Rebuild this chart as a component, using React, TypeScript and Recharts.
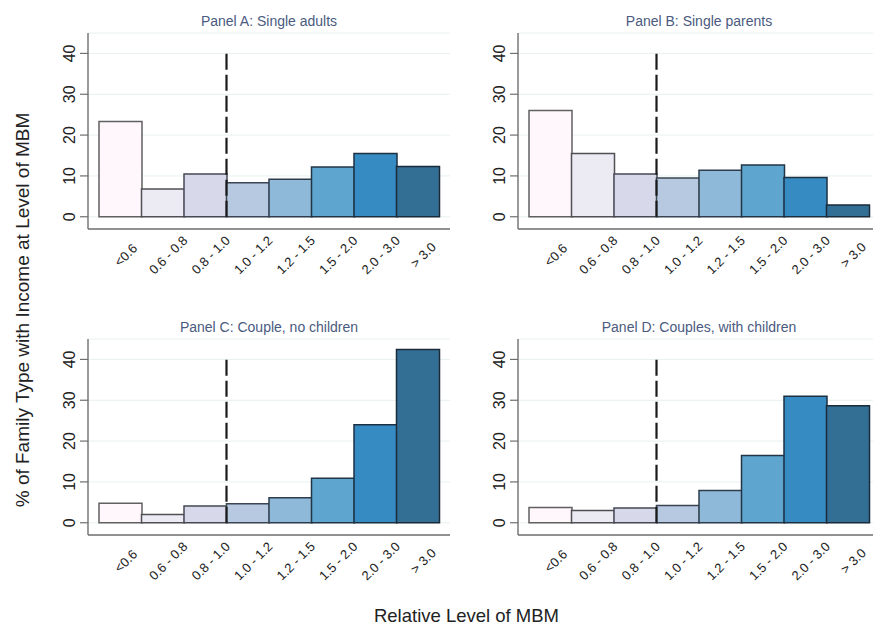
import React from 'react';
import { BarChart, Bar, XAxis, YAxis, CartesianGrid, ReferenceLine, Cell } from 'recharts';

const categories = ['<0.6', '0.6 - 0.8', '0.8 - 1.0', '1.0 - 1.2', '1.2 - 1.5', '1.5 - 2.0', '2.0 - 3.0', '> 3.0'];
const singleAdults = [23.3, 6.8, 10.5, 8.3, 9.2, 12.2, 15.5, 12.3];
const singleParents = [26.0, 15.5, 10.5, 9.5, 11.4, 12.7, 9.6, 2.9];
const coupleNoChildren = [4.8, 2.0, 4.1, 4.65, 6.1, 10.9, 24.0, 42.4];
const couplesWithChildren = [3.75, 3.0, 3.6, 4.25, 7.9, 16.5, 31.0, 28.65];
const yTicks = [0, 10, 20, 30, 40];
const panelTitles = ['Panel A: Single adults', 'Panel B: Single parents', 'Panel C: Couple, no children', 'Panel D: Couples, with children'];
const mbmThreshold = '1.0 - 1.2';
const yLabel = '% of Family Type with Income at Level of MBM';
const xLabel = 'Relative Level of MBM';

const fills = ['#fff7fb', '#ecebf4', '#d7d9ea', '#b6c9e1', '#8fb9d9', '#5ea6cf', '#378bc3', '#336f94'];
const strokes = ['#606060', '#505054', '#464854', '#3a4452', '#2e3c4b', '#233545', '#1c3042', '#1a2b3a'];

const FONT = "'Liberation Sans', Arial, sans-serif";
const AXIS = '#6f6f6f';

const XTick = (props: any) => {
  const { x, y, payload } = props;
  const cx = x + 5.5;
  const cy = y + 26;
  return (
    <text
      x={cx}
      y={cy}
      textAnchor="middle"
      dominantBaseline="central"
      transform={`rotate(-45, ${cx}, ${cy})`}
      fontFamily={FONT}
      fontSize={13}
      fill="#222"
    >
      {payload.value}
    </text>
  );
};

const YTick = (props: any) => {
  const { x, y, payload } = props;
  const bx = x - 3;
  return (
    <text
      x={bx}
      y={y}
      textAnchor="middle"
      transform={`rotate(-90, ${bx}, ${y})`}
      fontFamily={FONT}
      fontSize={16}
      fill="#222"
    >
      {payload.value}
    </text>
  );
};

const PANEL_W = 460;
const PANEL_H = 300;

function Panel({ values, left, top }: { values: number[]; left: number; top: number }) {
  const data = categories.map((c, i) => ({ cat: c, v: values[i] }));
  return (
    <div style={{ position: 'absolute', left, top, width: PANEL_W, height: PANEL_H }}>
      <BarChart
        width={PANEL_W}
        height={PANEL_H}
        data={data}
        margin={{ top: 33, right: 10, bottom: 21, left: 48 }}
        barCategoryGap={0}
        barGap={0}
      >
        <CartesianGrid horizontal vertical={false} stroke="#e8f0f0" strokeWidth={1} />
        <XAxis
          dataKey="cat"
          height={50}
          padding={{ left: 11, right: 11 }}
          tickLine={false}
          tickSize={0}
          tickMargin={0}
          axisLine={{ stroke: AXIS, strokeWidth: 1.4 }}
          tick={XTick}
          interval={0}
        />
        <YAxis
          type="number"
          domain={[-3, 45]}
          ticks={yTicks}
          width={40}
          tickSize={8}
          tickMargin={2}
          tickLine={{ stroke: AXIS, strokeWidth: 1.2 }}
          axisLine={{ stroke: AXIS, strokeWidth: 1.4 }}
          tick={YTick}
          interval={0}
          allowDataOverflow
        />
        <Bar dataKey="v" isAnimationActive={false} strokeWidth={1.5}>
          {data.map((d, i) => (
            <Cell key={d.cat} fill={fills[i]} stroke={strokes[i]} />
          ))}
        </Bar>
        <ReferenceLine
          segment={[{ x: mbmThreshold, y: 0 }, { x: mbmThreshold, y: 40 }]}
          position="start"
          stroke="#1a1a1a"
          strokeWidth={2.2}
          strokeDasharray="16 5"
        />
      </BarChart>
    </div>
  );
}

const panels = [
  { values: singleAdults, left: 0, top: 0 },
  { values: singleParents, left: 430, top: 0 },
  { values: coupleNoChildren, left: 0, top: 306 },
  { values: couplesWithChildren, left: 430, top: 306 },
];

export default function App() {
  return (
    <div style={{ position: 'absolute', left: 0, top: 0, width: 873, height: 627, overflow: 'hidden', background: '#fff' }}>
      {panels.map((p, i) => (
        <Panel key={i} values={p.values} left={p.left} top={p.top} />
      ))}
      <svg width={873} height={627} style={{ position: 'absolute', left: 0, top: 0, pointerEvents: 'none' }}>
        {panels.map((p, i) => (
          <text
            key={i}
            x={p.left + 269}
            y={p.top + 26}
            textAnchor="middle"
            fontFamily={FONT}
            fontSize={14}
            fill="#4a5a80"
          >
            {panelTitles[i]}
          </text>
        ))}
        <text
          x={29}
          y={310}
          textAnchor="middle"
          transform="rotate(-90, 29, 310)"
          fontFamily={FONT}
          fontSize={19}
          fill="#222"
        >
          {yLabel}
        </text>
        <text x={466.5} y={622} textAnchor="middle" fontFamily={FONT} fontSize={18.5} fill="#222">
          {xLabel}
        </text>
      </svg>
    </div>
  );
}
